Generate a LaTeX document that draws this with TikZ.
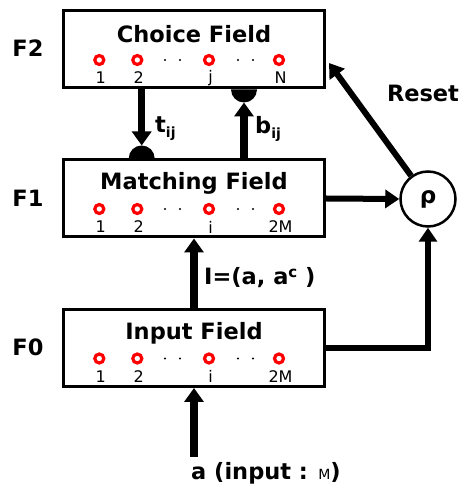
\documentclass[tikz,border=0pt]{standalone}
\usepackage{fontspec}
\setmainfont{DejaVu Sans}
\usetikzlibrary{arrows.meta,calc}
\newcommand{\mysub}[1]{\raisebox{-5pt}{\fontsize{14}{14}\selectfont #1}}
\newcommand{\mysup}[1]{\raisebox{7pt}{\fontsize{15}{15}\selectfont #1}}
\begin{document}
\begin{tikzpicture}[x=1pt,y=1pt,
  field/.style={draw,line width=3pt,minimum width=261pt,minimum height=77pt,inner sep=0pt},
  ttl/.style={font=\fontsize{22.5}{22.5}\selectfont\bfseries,inner sep=0pt},
  lbl/.style={font=\fontsize{22.5}{22.5}\selectfont\bfseries,inner sep=0pt},
  idx/.style={font=\fontsize{16}{16}\selectfont,inner sep=0pt},
  unit/.style={draw=red,line width=3.2pt},
  conn/.style={line width=7.5pt,-{Triangle[length=14pt,width=19pt]}},
  thin/.style={line width=6pt,-{Triangle[length=14pt,width=18pt]}},
  wire/.style={line width=6pt},
  stop/.style={fill=black}
]
\useasboundingbox (0,0) rectangle (468,487);

% boxes
\node[field] (choice) at (194,437.5) {};
\node[field] (match) at (194,288.5) {};
\node[field] (inp) at (194,139) {};

% titles
\node[ttl] (tc) at ($(choice)+(0,15)$) {Choice Field};
\node[ttl] (tm) at ($(match)+(0,15)$) {Matching Field};
\node[ttl] (ti) at ($(inp)+(0,15)$) {Input Field};

% layer labels
\node[lbl] (f2) at (28,439) {F2};
\node[lbl] (f1) at (28,289) {F1};
\node[lbl] (f0) at (28,140) {F0};

% units
\foreach \b/\lst in {choice/{99.3/1,137.3/2,209/j,279/N},match/{99.3/1,137.3/2,209/i,279/2M},inp/{99.3/1,137.3/2,209/i,279/2M}}{
  \foreach \x/\t in \lst {
    \draw[unit] (\x,0 |- \b.center) ++(0,-10.5) circle[radius=4.5];
    \node[idx] at ($(\x,0 |- \b.center)+(1.5,-28.5)$) {\t};
  }
  \foreach \x in {165,180,238,253} {
    \fill (\x,0 |- \b.center) ++(0,-10.5) circle[radius=1.2];
  }
}

% rho
\node[draw,circle,line width=2.5pt,minimum size=55pt,inner sep=0pt,font=\fontsize{23}{23}\selectfont\bfseries] (rho) at (428,288) {ρ};

% top-down t_ij
\coordinate (tS) at (141.7,0 |- choice.south);
\coordinate (tB) at (141.7,0 |- match.north);
\fill[stop] ($(tB)+(-13,0)$) arc[start angle=180,end angle=0,radius=13pt] -- cycle;
\draw[conn] (tS) -- ($(tB)+(0,13)$);
\node[lbl,anchor=west] (tl) at (155,358) {t\mysub{ij}};

% bottom-up b_ij
\coordinate (bS) at (244,0 |- match.north);
\coordinate (bB) at (244,0 |- choice.south);
\fill[stop] ($(bB)+(-13,0)$) arc[start angle=180,end angle=360,radius=13pt] -- cycle;
\draw[conn] (bS) -- ($(bB)+(0,-13)$);
\node[lbl,anchor=west] (bl) at (255,358) {b\mysub{ij}};

% F0 -> F1
\draw[conn] (inp.north) -- (match.south);
\node[lbl,anchor=west] (il) at (204,209) {I=(a, a\mysup{c} )};

% input
\coordinate (ain) at (194,30);
\draw[conn] (ain) -- (inp.south);
\node[lbl] (al) at (266,14) {a (input : {\mdseries\fontsize{14}{14}\selectfont M})};

% to rho
\draw[thin] (match.east) -- (rho.west);
\draw[wire] (inp.east) -| ($(rho.south)+(0,-16)$);
\draw[thin] ($(rho.south)+(0,-17)$) -- (rho.south);

% reset
\coordinate (rEnd) at ($(choice.east)+(3,-13.5)$);
\draw[thin] (rho) -- (rEnd);
\node[lbl] (reset) at (423,394) {Reset};
\end{tikzpicture}
\end{document}
